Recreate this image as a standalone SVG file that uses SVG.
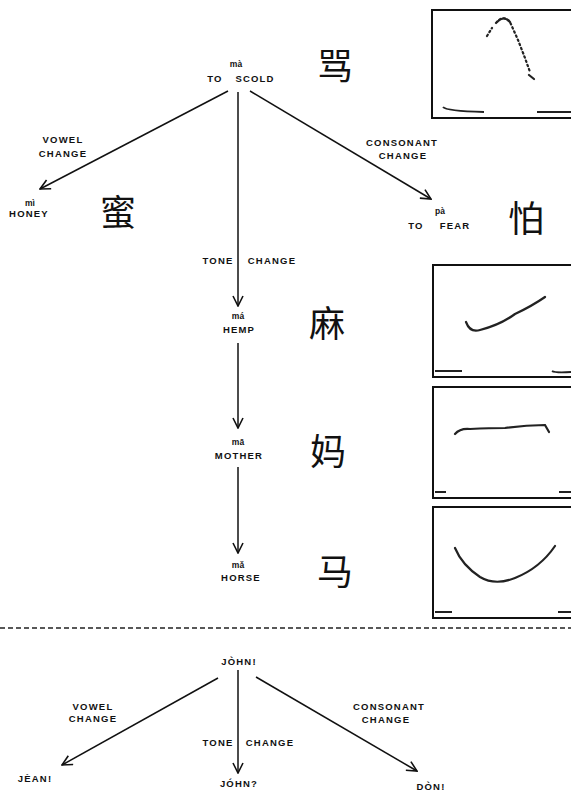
<svg xmlns="http://www.w3.org/2000/svg" width="571" height="794" viewBox="0 0 571 794">
<style>
.t{font-family:"Liberation Sans",Arial,sans-serif;font-weight:bold;font-size:9.5px;letter-spacing:1.2px;fill:#111;text-anchor:middle}
.p{font-family:"Liberation Sans",Arial,sans-serif;font-weight:bold;font-size:8.5px;fill:#111;text-anchor:middle}
.c{font-family:"Noto Sans CJK SC",sans-serif;font-size:36px;fill:#111;text-anchor:middle}
.e{stroke:#111;stroke-width:1.5;fill:none;marker-end:url(#ah)}
.box{stroke:#111;stroke-width:2;fill:none}
.cv{stroke:#222;stroke-width:2.2;fill:none;stroke-linecap:round}
.bl{stroke:#222;stroke-width:1.8;fill:none}
</style>
<defs>
<marker id="ah" viewBox="0 0 12 12" refX="11" refY="6" markerWidth="12" markerHeight="12" markerUnits="userSpaceOnUse" orient="auto">
<path d="M1,1 L11,6 L1,11" stroke="#111" stroke-width="1.6" fill="none"/>
</marker>
</defs>
<rect width="571" height="794" fill="#fff"/>
<g id="connectors">
<line class="e" x1="228" y1="91" x2="40" y2="189"/>
<line class="e" x1="238" y1="92" x2="238" y2="306"/>
<line class="e" x1="250" y1="91" x2="431" y2="199"/>
<line class="e" x1="238" y1="343" x2="238" y2="428"/>
<line class="e" x1="238" y1="467" x2="238" y2="553"/>
<line class="e" x1="218" y1="678" x2="62" y2="765"/>
<line class="e" x1="238" y1="670" x2="238" y2="773"/>
<line class="e" x1="256" y1="677" x2="417" y2="771"/>
</g>
<g id="labels">
<text class="t" x="63" y="143">VOWEL</text>
<text class="t" x="63" y="157">CHANGE</text>
<text class="t" x="402" y="146">CONSONANT</text>
<text class="t" x="403" y="159">CHANGE</text>
<text class="t" x="218" y="264">TONE</text>
<text class="t" x="272" y="264">CHANGE</text>
<text class="t" x="93" y="710">VOWEL</text>
<text class="t" x="93" y="722">CHANGE</text>
<text class="t" x="389" y="710">CONSONANT</text>
<text class="t" x="386" y="723">CHANGE</text>
<text class="t" x="218" y="746">TONE</text>
<text class="t" x="270" y="746">CHANGE</text>
</g>
<g id="scold">
<text class="p" x="236" y="67">mà</text>
<text class="t" x="215" y="82">TO</text>
<text class="t" x="255" y="82">SCOLD</text>
<text class="c" x="335" y="80">骂</text>
</g>
<g id="honey">
<text class="p" x="30" y="206">mì</text>
<text class="t" x="29" y="217">HONEY</text>
<text class="c" x="118" y="226">蜜</text>
</g>
<g id="fear">
<text class="p" x="440" y="214">pà</text>
<text class="t" x="416" y="229">TO</text>
<text class="t" x="455" y="229">FEAR</text>
<text class="c" x="526" y="232">怕</text>
</g>
<g id="hemp">
<text class="p" x="238" y="319">má</text>
<text class="t" x="239" y="333">HEMP</text>
<text class="c" x="327" y="337">麻</text>
</g>
<g id="mother">
<text class="p" x="238" y="445">mā</text>
<text class="t" x="239" y="459">MOTHER</text>
<text class="c" x="328" y="465">妈</text>
</g>
<g id="horse">
<text class="p" x="238" y="568">mǎ</text>
<text class="t" x="241" y="581">HORSE</text>
<text class="c" x="335" y="585">马</text>
</g>
<g id="plots">
<path class="box" d="M571,10 H432 V118 H571"/>
<path class="cv" d="M487,36 L492,28 M496,23 Q503,14 510,22 L518,40 L525,58 L530,72" stroke-dasharray="1.5 3"/>
<path class="cv" d="M497,22 Q504,15 510,22 M529,75 L534,79"/>
<path class="bl" d="M443,107 Q446,111 484,112 M537,112 H571"/>
<path class="box" d="M571,265 H433 V377 H571"/>
<path class="cv" d="M466,322 Q470,333 480,330 Q500,325 515,314 Q532,306 545,297"/>
<path class="bl" d="M435,371 H462 M552,371 Q555,373 571,372"/>
<path class="box" d="M571,387 H433 V498 H571"/>
<path class="cv" d="M455,434 Q460,428 470,429 Q490,428 505,428 Q525,425 545,425 L549,432"/>
<path class="bl" d="M435,492 H446 M559,492 H571"/>
<path class="box" d="M571,507 H433 V618 H571"/>
<path class="cv" d="M455,548 Q462,565 480,577 Q495,586 515,578 Q540,568 555,546"/>
<path class="bl" d="M435,612 H452 M558,612 H571"/>
</g>
<line x1="0" y1="628" x2="571" y2="628" stroke="#222" stroke-width="1.3" stroke-dasharray="5 3"/>
<g id="john">
<text class="t" x="239" y="665">JÒHN!</text>
</g>
<g id="jean">
<text class="t" x="35" y="782">JÈAN!</text>
</g>
<g id="john2">
<text class="t" x="239" y="787">JÓHN?</text>
</g>
<g id="don">
<text class="t" x="431" y="790">DÒN!</text>
</g>
</svg>
